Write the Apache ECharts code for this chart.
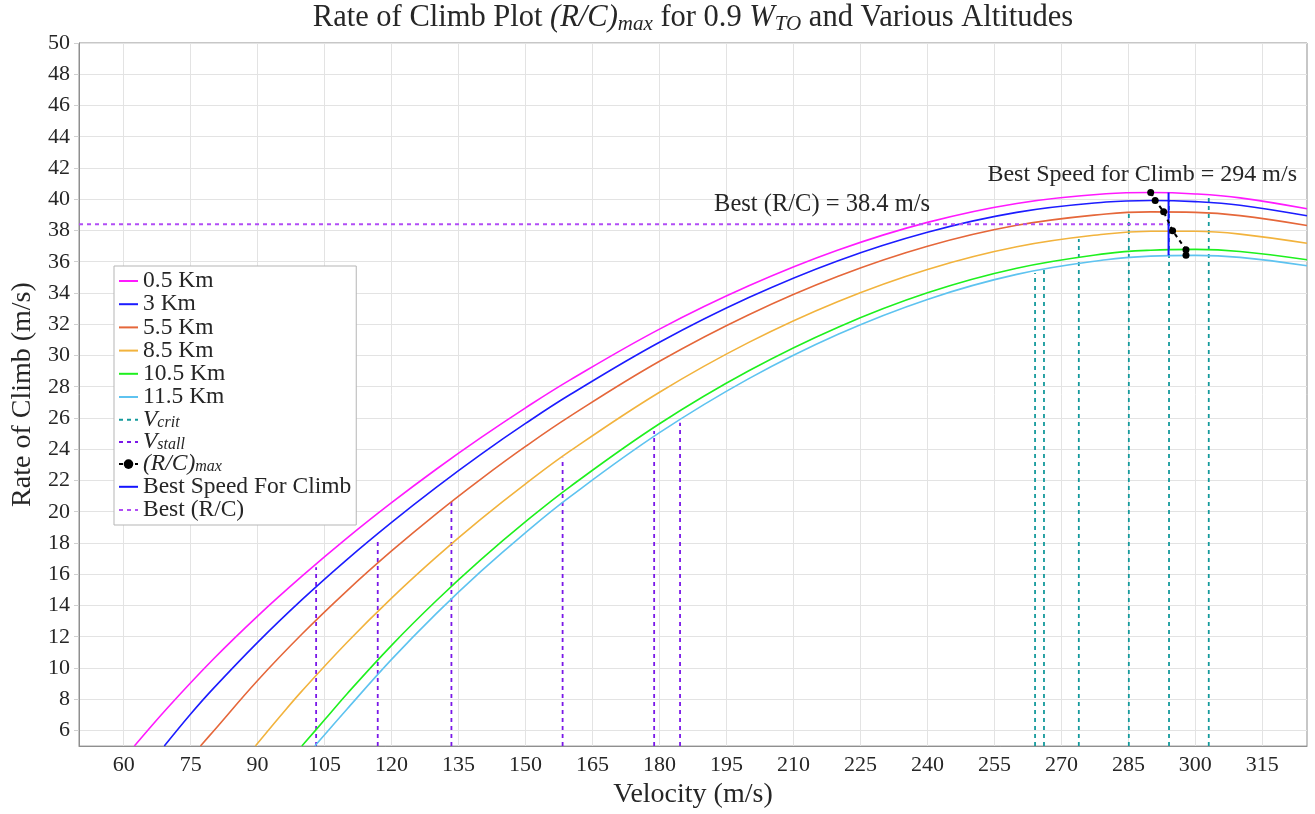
<!DOCTYPE html>
<html><head><meta charset="utf-8">
<script src="https://cdn.jsdelivr.net/npm/echarts@6/dist/echarts.min.js"></script>
<style>html,body{margin:0;padding:0;background:#fff}#c{width:1315px;height:814px}</style>
</head><body><div id="c"></div>
<script>
// ---------- data ----------
const altNames = ['0.5 Km', '3 Km', '5.5 Km', '8.5 Km', '10.5 Km', '11.5 Km'];
const V_05 = [62.4, 70, 80, 90, 100, 110, 120, 130, 140, 150, 160, 180, 200, 220, 240, 260, 280, 290, 300, 310, 325];
const RC_05 = [5, 7.50, 10.54, 13.32, 15.89, 18.31, 20.58, 22.72, 24.74, 26.65, 28.44, 31.69, 34.46, 36.75, 38.52, 39.73, 40.35, 40.43, 40.34, 40.09, 39.39];
const V_3 = [69.1, 75, 80, 90, 100, 110, 120, 130, 140, 150, 160, 180, 200, 220, 240, 260, 280, 290, 300, 310, 325];
const RC_3 = [5, 7.05, 8.66, 11.64, 14.39, 16.94, 19.32, 21.56, 23.67, 25.65, 27.50, 30.85, 33.71, 36.07, 37.89, 39.16, 39.82, 39.92, 39.85, 39.62, 38.94];
const V_55 = [77.2, 80, 90, 100, 110, 120, 130, 140, 150, 160, 180, 200, 220, 240, 260, 280, 290, 300, 310, 325];
const RC_55 = [5, 5.92, 9.20, 12.19, 14.94, 17.49, 19.87, 22.09, 24.18, 26.12, 29.63, 32.61, 35.07, 36.99, 38.33, 39.06, 39.19, 39.16, 38.95, 38.32];
const V_85 = [89.5, 95, 100, 110, 120, 130, 140, 150, 160, 180, 200, 220, 240, 260, 280, 290, 300, 310, 325];
const RC_85 = [5, 6.89, 8.55, 11.63, 14.47, 17.09, 19.52, 21.78, 23.89, 27.65, 30.84, 33.46, 35.51, 36.96, 37.78, 37.95, 37.95, 37.77, 37.18];
const V_105 = [99.9, 105, 110, 120, 130, 140, 150, 160, 180, 200, 220, 240, 260, 280, 290, 300, 310, 325];
const RC_105 = [5, 6.68, 8.34, 11.45, 14.30, 16.93, 19.36, 21.61, 25.63, 29.02, 31.81, 34.01, 35.58, 36.52, 36.74, 36.79, 36.66, 36.13];
const V_115 = [102.8, 110, 120, 130, 140, 150, 160, 180, 200, 220, 240, 260, 280, 290, 300, 310, 325];
const RC_115 = [5, 7.36, 10.55, 13.48, 16.18, 18.67, 20.97, 25.06, 28.52, 31.36, 33.59, 35.19, 36.13, 36.36, 36.41, 36.28, 35.74];

const vCrit = [303.0, 294.1, 285.1, 273.9, 266.1, 264.1];
const vCritTop = [40.29, 39.90, 39.16, 37.45, 35.62, 35.28];
const vStall = [103.1, 116.9, 133.4, 158.3, 178.8, 184.6];
const vStallTop = [16.45, 18.13, 20.69, 23.46, 25.16, 25.70];
const rcMaxV = [290.0, 291.0, 292.9, 294.9, 297.9, 297.9];
const rcMaxR = [40.43, 39.92, 39.20, 37.99, 36.77, 36.41];
const bestSpeed = 294;
const bestRC = 38.4;

const xTicks = [60, 75, 90, 105, 120, 135, 150, 165, 180, 195, 210, 225, 240, 255, 270, 285, 300, 315];
const yTicks = [6, 8, 10, 12, 14, 16, 18, 20, 22, 24, 26, 28, 30, 32, 34, 36, 38, 40, 42, 44, 46, 48, 50];

// ---------- styling ----------
const FONT = '"Liberation Serif", "DejaVu Serif", serif';
const TXT = '#262626';
const altColors = ['#ff1aff', '#1c1cff', '#e5673a', '#f2b33d', '#1ef01e', '#5ec3f0'];
const cCrit = '#159a9c', cStall = '#7a18e8', cBestRC = '#b14ef5', cBestV = '#1414ff';
const XMIN = 50, XMAX = 325, YMIN = 5, YMAX = 50;

const zip = (a, b) => a.map((v, i) => [v, b[i]]);
const curveV = [V_05, V_3, V_55, V_85, V_105, V_115];
const curveR = [RC_05, RC_3, RC_55, RC_85, RC_105, RC_115];

function segs(xs, tops) {
  const d = [];
  xs.forEach((x, i) => { d.push([x, YMIN], [x, tops[i]], [x, '-']); });
  return d;
}

const series = [];
altNames.forEach((n, i) => {
  series.push({
    type: 'line', name: n, data: zip(curveV[i], curveR[i]),
    symbol: 'none', smooth: 0.4,
    lineStyle: { color: altColors[i], width: 1.6 }, itemStyle: { color: altColors[i] },
    z: 3, silent: true
  });
});
series.push({
  type: 'line', name: 'V_crit', data: segs(vCrit, vCritTop), symbol: 'none', connectNulls: false,
  lineStyle: { color: cCrit, width: 1.8, type: [4, 4] }, itemStyle: { color: cCrit }, z: 2, silent: true
});
series.push({
  type: 'line', name: 'V_stall', data: segs(vStall, vStallTop), symbol: 'none', connectNulls: false,
  lineStyle: { color: cStall, width: 1.8, type: [4, 4] }, itemStyle: { color: cStall }, z: 2, silent: true
});
series.push({
  type: 'line', name: '(R/C)_max', data: zip(rcMaxV, rcMaxR), symbol: 'circle', symbolSize: 7, showSymbol: true,
  lineStyle: { color: '#000', width: 2, type: [4, 4] }, itemStyle: { color: '#000' }, z: 6, silent: true
});
series.push({
  type: 'line', name: 'Best Speed For Climb',
  data: [[bestSpeed, Math.min(...rcMaxR)], [bestSpeed, Math.max(...rcMaxR)]], symbol: 'none',
  lineStyle: { color: cBestV, width: 2 }, itemStyle: { color: cBestV }, z: 5, silent: true
});
series.push({
  type: 'line', name: 'Best (R/C)', data: [[XMIN, bestRC], [bestSpeed, bestRC]], symbol: 'none',
  lineStyle: { color: cBestRC, width: 1.8, type: [4, 4] }, itemStyle: { color: cBestRC }, z: 4, silent: true
});

const LH = 22.2;
const legendRich = {
  n: { fontFamily: FONT, fontSize: 23.5, color: TXT, lineHeight: LH },
  i: { fontFamily: FONT, fontSize: 23.5, color: TXT, fontStyle: 'italic', lineHeight: LH },
  s: { fontFamily: FONT, fontSize: 16, color: TXT, fontStyle: 'italic', verticalAlign: 'bottom' }
};
const noDot = { color: 'rgba(0,0,0,0)', borderColor: 'rgba(0,0,0,0)', borderWidth: 0, opacity: 0 };
const legendNames = altNames.concat(['V_crit', 'V_stall', '(R/C)_max', 'Best Speed For Climb', 'Best (R/C)']);
const legendData = legendNames.map(n => n === '(R/C)_max'
  ? { name: n, itemStyle: { color: '#000' } }
  : { name: n, itemStyle: noDot });

const chart = echarts.init(document.getElementById('c'), null, { renderer: 'canvas' });
const option = {
  backgroundColor: '#fff',
  animation: false,
  grid: { left: 79, right: 8, top: 43, bottom: 67, show: true, borderColor: '#8f8f8f', borderWidth: 1, containLabel: false },
  xAxis: {
    type: 'value', min: XMIN, max: XMAX,
    name: 'Velocity (m/s)', nameLocation: 'middle', nameGap: 33,
    nameTextStyle: { fontFamily: FONT, fontSize: 28, color: TXT },
    axisLine: { show: true, lineStyle: { color: '#8f8f8f', width: 1 } },
    axisTick: { show: false, customValues: xTicks },
    axisLabel: { customValues: xTicks, fontFamily: FONT, fontSize: 22, color: TXT, margin: 8 },
    splitLine: { show: true, lineStyle: { color: '#e3e3e3', width: 1 } }
  },
  yAxis: {
    type: 'value', min: YMIN, max: YMAX,
    name: 'Rate of Climb (m/s)', nameLocation: 'middle', nameGap: 42, nameRotate: 90,
    nameTextStyle: { fontFamily: FONT, fontSize: 28, color: TXT },
    axisLine: { show: true, lineStyle: { color: '#8f8f8f', width: 1 } },
    axisTick: { show: true, length: 5, customValues: yTicks, lineStyle: { color: '#d0d0d0' } },
    axisLabel: { customValues: yTicks, fontFamily: FONT, fontSize: 22, color: TXT, margin: 9 },
    splitLine: { show: true, lineStyle: { color: '#e3e3e3', width: 1 } }
  },
  legend: {
    orient: 'vertical', left: 114, top: 266,
    data: legendData,
    itemWidth: 19, itemHeight: 12, itemGap: -0.8,
    padding: [3, 5, 3, 4],
    backgroundColor: '#fff', borderColor: '#b5b5b5', borderWidth: 1, borderRadius: 0,
    selectedMode: false,
    textStyle: { fontFamily: FONT, fontSize: 23.5, color: TXT, lineHeight: LH, rich: legendRich },
    formatter: function (name) {
      if (name === 'V_crit') return '{i|V}{s|crit}';
      if (name === 'V_stall') return '{i|V}{s|stall}';
      if (name === '(R/C)_max') return '{i|(R/C)}{s|max}';
      return '{n|' + name + '}';
    }
  },
  series: series
};
chart.setOption(option);

const p1 = chart.convertToPixel({ gridIndex: 0 }, [216.4, 39.65]);
const p2 = chart.convertToPixel({ gridIndex: 0 }, [288.1, 41.6]);
const titleRich = {
  n: { fontFamily: FONT, fontSize: 30.5, fill: TXT, lineHeight: 34 },
  i: { fontFamily: FONT, fontSize: 30.5, fill: TXT, fontStyle: 'italic', lineHeight: 34 },
  s: { fontFamily: FONT, fontSize: 21, fill: TXT, fontStyle: 'italic', verticalAlign: 'bottom' }
};
chart.setOption({
  graphic: [
    { type: 'text', x: 693, y: 18, z: 100, style: {
      text: '{n|Rate of Climb Plot }{i|(R/C)}{s|max}{n| for 0.9 }{i|W}{s|TO}{n| and Various Altitudes}',
      rich: titleRich, align: 'center', verticalAlign: 'middle', fill: TXT } },
    { type: 'text', x: p1[0], y: p1[1], z: 100, style: {
      text: 'Best (R/C) = ' + bestRC + ' m/s', font: '24.5px ' + FONT, fill: TXT, align: 'center', verticalAlign: 'middle' } },
    { type: 'text', x: p2[0], y: p2[1], z: 100, style: {
      text: 'Best Speed for Climb = ' + bestSpeed + ' m/s', font: '24px ' + FONT, fill: TXT, align: 'center', verticalAlign: 'middle' } }
  ]
});
</script></body></html>
